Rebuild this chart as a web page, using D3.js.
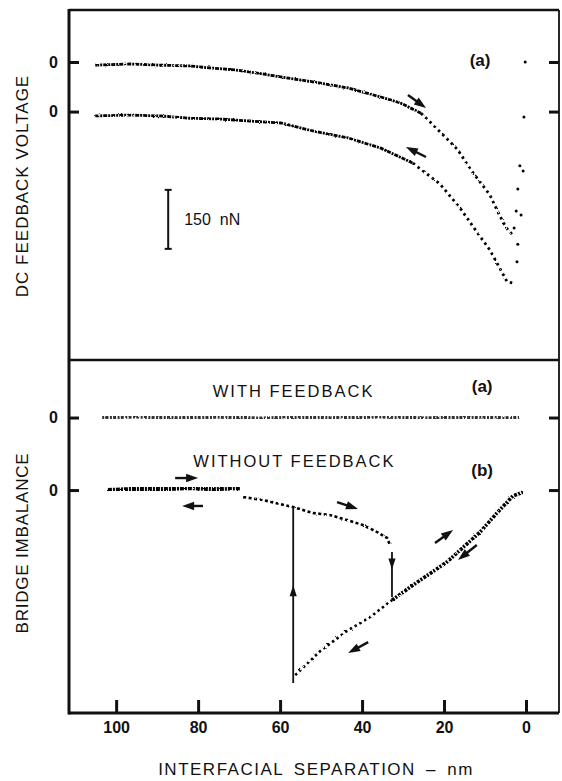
<!DOCTYPE html>
<html>
<head>
<meta charset="utf-8">
<script src="https://cdn.jsdelivr.net/npm/d3@7"></script>
<style>
  body { margin: 0; background: #fff; }
  svg text { font-family: "Liberation Sans", Arial, sans-serif; fill: #111; }
</style>
</head>
<body>
<svg id="chart" width="562" height="781"></svg>
<script>
// top panel: separation (nm) vs force (nN), each trace relative to its own zero
const approachSep   = [105.1, 96.6, 89.3, 82.0, 77.1, 71.0, 65.6, 59.8, 51.7, 43.4, 35.4, 30.7, 25.6, 22.4, 19.0, 16.6, 13.4, 11.0, 8.8, 7.1, 5.6, 4.4, 3.2];
const approachForce = [-8, -5, -8, -10, -15, -20, -28, -38, -51, -66, -89, -104, -130, -163, -198, -224, -275, -308, -338, -376, -407, -427, -440];
const retractSep    = [105.1, 96.6, 89.3, 82.0, 74.6, 67.3, 59.8, 51.7, 43.4, 35.4, 27.6, 21.0, 16.1, 12.0, 8.8, 5.9, 4.6, 3.2];
const retractForce  = [-11, -9, -11, -17, -19, -24, -29, -50, -67, -93, -131, -184, -245, -306, -352, -408, -433, -436];
const contactSep    = [2.2, 2.0, 2.9, 2.4, 1.2, 2.0, 1.5, 0.7, 0.5, 0.2];
const contactForce  = [-508, -463, -422, -379, -389, -323, -264, -277, -140, 0];
const topZeros = [0, -126];          // approach, retract baselines
const scaleBar = [-325, -475];       // 150 nN

// bottom panel: bridge imbalance (arb. units)
const withSep      = [103.4, 95, 85, 75, 65, 55, 45, 35, 25, 15, 5, 1.7];
const withImb      = [0, 0.5, -0.3, 0.4, -0.5, 0.3, 0, 0.5, -0.4, 0.2, -0.3, 0.3];
const withoutSep   = [102, 96.6, 89.3, 82, 75.9, 69.8, 69.0, 64.1, 56.8, 52, 47.8, 43.7, 39.8, 36.3, 33.9, 33.2];
const withoutImb   = [0, 0.5, 0.5, 1.1, 0.5, 1.1, -3.8, -5.4, -9.2, -12.4, -13.5, -16.2, -18.9, -22.7, -25.9, -29.7];
const rampSep      = [56.3, 50.2, 43.7, 38, 32.7, 27.6, 19.3, 11.2, 7.1, 3.2, 0.7];
const rampImb      = [-100, -87, -76.2, -68.6, -59.5, -51.4, -38.9, -22.7, -12.4, -3.2, -1.1];
const bottomZeros  = [39.2, 0];      // with, without feedback
const jumps = [
  { sep: 32.7, from: -33.5, to: -57.8, head: -43 },
  { sep: 56.8, from: -104.3, to: -9.7, head: -51.4 }
];

const xTicks = [100, 80, 60, 40, 20, 0];

// arrows: [sepTail, valTail, sepHead, valHead]
const topArrows = [[28.8, -84, 24.4, -117], [24.4, -241.5, 29.3, -216]];
const bottomArrows = [
  [85.6, 6.5, 80, 6.5], [78.8, -8.6, 83.9, -8.6], [46.1, -6.5, 41, -10.3],
  [38.5, -82.2, 43.4, -88.1], [22.2, -28.6, 17.8, -21.6], [12, -29.7, 16.6, -37.8]
];

const svg = d3.select("#chart");
const pLeft = 69, pRight = 559, pTop = 10, pMid = 360, pBottom = 713;

const x = d3.scaleLinear().domain([111.5, -8.05]).range([pLeft, pRight]);
const yTop = d3.scaleLinear().domain([-757.5, 132.2]).range([pMid, pTop]);
const yBot = d3.scaleLinear().domain([-120.5, 70.3]).range([pBottom, pMid]);

// rough filter to mimic the noisy plotted trace
const defs = svg.append("defs");
const f = defs.append("filter").attr("id", "rough").attr("x", "-5%").attr("y", "-20%").attr("width", "110%").attr("height", "140%");
f.append("feTurbulence").attr("type", "fractalNoise").attr("baseFrequency", 0.6).attr("numOctaves", 1).attr("seed", 4).attr("result", "n");
f.append("feDisplacementMap").attr("in", "SourceGraphic").attr("in2", "n").attr("scale", 2.6);

const zip = (a, b) => a.map((v, i) => [v, b[i]]);

function trace(y, data, zero, width, dash, op) {
  const line = d3.line().x(d => x(d[0])).y(d => y(d[1] + zero));
  svg.append("path")
     .attr("d", line(data))
     .attr("fill", "none")
     .attr("stroke", "#000")
     .attr("stroke-width", width)
     .attr("stroke-dasharray", dash)
     .attr("opacity", op || 1)
     .attr("filter", "url(#rough)");
}

function arrowHead(px, py, ang, len, w) {
  const c = Math.cos(ang), s = Math.sin(ang);
  const bx = px - len * c, by = py - len * s;
  svg.append("path")
     .attr("d", `M${px},${py}L${bx + w * s},${by - w * c}L${bx - w * s},${by + w * c}Z`)
     .attr("fill", "#111");
}

function arrow(y, a) {
  const x1 = x(a[0]), y1 = y(a[1]), x2 = x(a[2]), y2 = y(a[3]);
  const ang = Math.atan2(y2 - y1, x2 - x1);
  svg.append("line")
     .attr("x1", x1).attr("y1", y1)
     .attr("x2", x2 - 6 * Math.cos(ang)).attr("y2", y2 - 6 * Math.sin(ang))
     .attr("stroke", "#111").attr("stroke-width", 2.4);
  arrowHead(x2, y2, ang, 12, 4.2);
}

// ---- top panel traces
const appr = zip(approachSep, approachForce);
const retr = zip(retractSep, retractForce);
trace(yTop, appr.filter(d => d[0] >= 25.6), topZeros[0], 2.8, "4,1,2,1");
trace(yTop, appr.filter(d => d[0] <= 25.6), topZeros[0], 2.8, "2.5,3.5");
trace(yTop, retr.filter(d => d[0] >= 27.6), topZeros[1], 2.8, "4,1,2,1");
trace(yTop, retr.filter(d => d[0] <= 27.6), topZeros[1], 2.8, "2.5,3.5");

svg.selectAll("circle.contact")
   .data(zip(contactSep, contactForce))
   .enter().append("circle")
   .attr("class", "contact")
   .attr("cx", d => x(d[0]))
   .attr("cy", d => yTop(d[1]))
   .attr("r", 1.5)
   .attr("fill", "#000");

topArrows.forEach(a => arrow(yTop, a));

// scale bar
const sbx = x(87.3);
svg.append("line").attr("x1", sbx).attr("x2", sbx).attr("y1", yTop(scaleBar[0])).attr("y2", yTop(scaleBar[1]))
   .attr("stroke", "#111").attr("stroke-width", 2);
scaleBar.forEach(v => svg.append("line").attr("x1", sbx - 3.5).attr("x2", sbx + 3.5)
   .attr("y1", yTop(v)).attr("y2", yTop(v)).attr("stroke", "#111").attr("stroke-width", 2));
svg.append("text").attr("x", x(83.4)).attr("y", yTop(-400)).attr("dy", "0.35em")
   .attr("font-size", 16).attr("xml:space", "preserve").text("150  nN");

svg.append("text").attr("x", x(11.2)).attr("y", yTop(-10)).attr("text-anchor", "middle")
   .attr("font-size", 17).attr("font-weight", "bold").text("(a)");

// ---- bottom panel traces
const withD = zip(withSep, withImb);
const woD = zip(withoutSep, withoutImb);
const rampD = zip(rampSep, rampImb);
trace(yBot, withD, bottomZeros[0], 3.8, "2,1.2,3,1.5", 0.8);
trace(yBot, woD.filter(d => d[0] >= 69.8), bottomZeros[1], 4.2, "4,1,2,1");
trace(yBot, woD.filter(d => d[0] <= 69.0), bottomZeros[1], 2.6, "3,2.5");
trace(yBot, rampD.filter(d => d[0] >= 32.7), bottomZeros[1], 2.6, "2.5,3");
trace(yBot, rampD.filter(d => d[0] <= 32.7), bottomZeros[1], 3.6, "3,1.2,2,1.5");

jumps.forEach(j => {
  svg.append("line").attr("x1", x(j.sep)).attr("x2", x(j.sep))
     .attr("y1", yBot(j.from)).attr("y2", yBot(j.to))
     .attr("stroke", "#111").attr("stroke-width", 1.8);
  arrowHead(x(j.sep), yBot(j.head), j.to > j.from ? -Math.PI / 2 : Math.PI / 2, 11, 3.6);
});

bottomArrows.forEach(a => arrow(yBot, a));

svg.append("text").attr("x", x(56.7)).attr("y", yBot(50.3)).attr("text-anchor", "middle")
   .attr("font-size", 16.5).attr("letter-spacing", 2).text("WITH FEEDBACK");
svg.append("text").attr("x", x(56.5)).attr("y", yBot(12.4)).attr("text-anchor", "middle")
   .attr("font-size", 16.5).attr("letter-spacing", 2).text("WITHOUT FEEDBACK");
svg.append("text").attr("x", x(10.7)).attr("y", yBot(53)).attr("text-anchor", "middle")
   .attr("font-size", 17).attr("font-weight", "bold").text("(a)");
svg.append("text").attr("x", x(10.7)).attr("y", yBot(7.6)).attr("text-anchor", "middle")
   .attr("font-size", 17).attr("font-weight", "bold").text("(b)");

// ---- axes
function styleAxis(g) {
  g.select(".domain").remove();
  g.selectAll(".tick line").attr("stroke", "#111").attr("stroke-width", 3);
  g.selectAll(".tick text").attr("fill", "#111").attr("font-size", 16).attr("font-weight", "bold")
   .attr("font-family", '"Liberation Sans", Arial, sans-serif');
}

svg.append("g").attr("transform", `translate(0,${pBottom})`)
   .call(d3.axisBottom(x).tickValues(xTicks).tickSize(-13).tickPadding(9).tickFormat(d3.format("d")))
   .call(styleAxis);

svg.append("g").attr("transform", `translate(${pLeft},0)`)
   .call(d3.axisLeft(yTop).tickValues(topZeros).tickSize(-10).tickPadding(11).tickFormat(() => "0"))
   .call(styleAxis);
svg.append("g").attr("transform", `translate(${pRight},0)`)
   .call(d3.axisRight(yTop).tickValues(topZeros).tickSize(-10).tickFormat(() => ""))
   .call(styleAxis);
svg.append("g").attr("transform", `translate(${pLeft},0)`)
   .call(d3.axisLeft(yBot).tickValues(bottomZeros).tickSize(-10).tickPadding(11).tickFormat(() => "0"))
   .call(styleAxis);
svg.append("g").attr("transform", `translate(${pRight},0)`)
   .call(d3.axisRight(yBot).tickValues(bottomZeros).tickSize(-10).tickFormat(() => ""))
   .call(styleAxis);

// frame
const frame = svg.append("g").attr("stroke", "#111").attr("fill", "none");
frame.append("line").attr("x1", pLeft).attr("x2", pLeft).attr("y1", pTop - 1).attr("y2", pBottom + 1.5).attr("stroke-width", 3);
frame.append("line").attr("x1", pLeft).attr("x2", pRight).attr("y1", pTop).attr("y2", pTop).attr("stroke-width", 2.5);
frame.append("line").attr("x1", pRight).attr("x2", pRight).attr("y1", pTop).attr("y2", pBottom).attr("stroke-width", 1.8);
frame.append("line").attr("x1", pLeft).attr("x2", pRight).attr("y1", pBottom).attr("y2", pBottom).attr("stroke-width", 3);
frame.append("line").attr("x1", pLeft).attr("x2", pRight).attr("y1", pMid).attr("y2", pMid).attr("stroke-width", 2.5);

// axis titles
svg.append("text").attr("transform", `translate(28,${(pTop + pMid) / 2 + 1}) rotate(-90)`)
   .attr("text-anchor", "middle").attr("font-size", 17).attr("letter-spacing", 1)
   .text("DC FEEDBACK VOLTAGE");
svg.append("text").attr("transform", `translate(28,543) rotate(-90)`)
   .attr("text-anchor", "middle").attr("font-size", 17).attr("letter-spacing", 0.8)
   .text("BRIDGE IMBALANCE");
svg.append("text").attr("x", 316).attr("y", 775).attr("text-anchor", "middle")
   .attr("font-size", 17).attr("letter-spacing", 1.5).attr("word-spacing", 4)
   .text("INTERFACIAL SEPARATION – nm");
</script>
</body>
</html>
